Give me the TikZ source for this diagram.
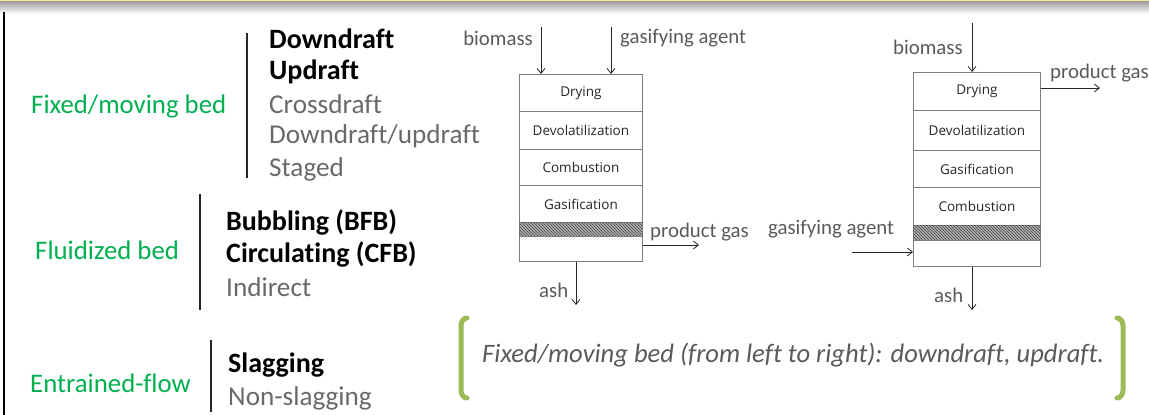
\documentclass[tikz,border=0pt]{standalone}
\usepackage{fontspec}
\setmainfont{Carlito}[Ligatures=CommonOff]
\newfontfamily\labfont{Open Sans}
\usetikzlibrary{arrows.meta,patterns}
\definecolor{grn}{RGB}{0,176,80}
\definecolor{brk}{RGB}{155,187,89}
\definecolor{lgray}{RGB}{105,105,105}
\definecolor{tgray}{RGB}{90,90,90}
\definecolor{boxgray}{RGB}{125,125,125}
\definecolor{topyel}{RGB}{240,232,150}
\tikzset{
  cat/.style={anchor=west,inner sep=0pt,text=grn,font=\fontsize{26.8}{30}\selectfont},
  itb/.style={anchor=west,inner sep=0pt,text=black,font=\fontsize{28}{30}\selectfont\bfseries},
  itg/.style={anchor=west,inner sep=0pt,text=lgray,font=\fontsize{27.2}{30}\selectfont},
  bar/.style={line width=2pt,black!85},
  sect/.style={draw=boxgray,line width=0.9pt,anchor=north west,inner sep=0pt,text=black!85,font=\labfont\fontsize{13.5}{16}\selectfont},
  hatch/.style={draw=boxgray,line width=0.9pt,anchor=north west,inner sep=0pt,fill=gray!65,postaction={pattern=north west lines,pattern color=black!70}},
  flow/.style={anchor=west,inner sep=0pt,text=tgray,font=\fontsize{20.8}{24}\selectfont},
  arr/.style={black!85,line width=0.8pt,-{Straight Barb[length=5pt,width=8pt]}},
  brack/.style={brk,line width=5pt,line cap=round},
}
\begin{document}
\begin{tikzpicture}[x=1pt,y=-1pt]
\useasboundingbox (0,0) rectangle (1149,415);
% top bar
\fill[topyel] (0,0) rectangle (1149,1.5);
\shade[top color=gray!75,bottom color=white] (0,1.5) rectangle (1149,14);
\draw[line width=2pt,black] (4,12) -- (4,415);

% Fixed/moving bed
\node[cat] (fmb) at (31,106) {Fixed/moving bed};
\draw[bar] (247,33) -- (247,178);
\node[itb] (dd) at (269,39) {Downdraft};
\node[itb] (ud) at (269,72) {Updraft};
\node[itg] (cd) at (269,104) {Crossdraft};
\node[itg] (du) at (269,136) {Downdraft/updraft};
\node[itg] (st) at (269,169) {Staged};

% Fluidized bed
\node[cat] (fb) at (35,250) {Fluidized bed};
\draw[bar] (200,194) -- (200,310);
\node[itb] (bfb) at (226,222) {Bubbling (BFB)};
\node[itb] (cfb) at (226,254) {Circulating (CFB)};
\node[itg] (ind) at (226,287) {Indirect};

% Entrained flow
\node[cat] (ef) at (30,383) {Entrained-flow};
\draw[bar] (211,340) -- (211,412);
\node[itb] (sl) at (228,365) {Slagging};
\node[itg] (ns) at (228,398) {Non-slagging};

% Left reactor (downdraft)
\node[sect,minimum width=123pt,minimum height=37pt] (a1) at (519,74) {Drying};
\node[sect,minimum width=123pt,minimum height=38pt] (a2) at (519,111) {Devolatilization};
\node[sect,minimum width=123pt,minimum height=36pt] (a3) at (519,149) {Combustion};
\node[sect,minimum width=123pt,minimum height=37pt] (a4) at (519,185) {Gasification};
\node[hatch,minimum width=123pt,minimum height=14pt] (a5) at (519,222) {};
\node[sect,minimum width=123pt,minimum height=25pt] (a6) at (519,236) {};
\coordinate (abm) at (541,27);
\coordinate (aga) at (611,27);
\coordinate (apg) at (699,245);
\coordinate (aash) at (576,305);
\draw[arr] (abm) -- (abm |- a1.north);
\draw[arr] (aga) -- (aga |- a1.north);
\draw[arr] (a6.east |- apg) -- (apg);
\draw[arr] (aash |- a6.south) -- (aash);
\node[flow,anchor=east] (lbm) at (533,38) {biomass};
\node[flow] (lga) at (620,38) {gasifying agent};
\node[flow] (lpg) at (650,232) {product gas};
\node[flow] (lash) at (539,290) {ash};

% Right reactor (updraft)
\node[sect,minimum width=127pt,minimum height=38pt] (b1) at (913,72) {Drying};
\node[sect,minimum width=127pt,minimum height=40pt] (b2) at (913,110) {Devolatilization};
\node[sect,minimum width=127pt,minimum height=37pt] (b3) at (913,150) {Gasification};
\node[sect,minimum width=127pt,minimum height=38pt] (b4) at (913,187) {Combustion};
\node[hatch,minimum width=127pt,minimum height=15pt] (b5) at (913,225) {};
\node[sect,minimum width=127pt,minimum height=26pt] (b6) at (913,240) {};
\coordinate (bbm) at (972,23);
\coordinate (bpg) at (1100,88);
\coordinate (bga) at (852,252);
\coordinate (bash) at (972,310);
\draw[arr] (bbm) -- (bbm |- b1.north);
\draw[arr] (b1.east |- bpg) -- (bpg);
\draw[arr] (bga) -- (bga -| b6.west);
\draw[arr] (bash |- b6.south) -- (bash);
\node[flow] (rbm) at (893,47) {biomass};
\node[flow] (rpg) at (1050,73) {product gas};
\node[flow] (rga) at (768,229) {gasifying agent};
\node[flow] (rash) at (934,295) {ash};

% caption with brackets
\draw[brack] (467,318) to[out=180,in=90] (461,326) -- (461,390) to[out=-90,in=180] (467,398);
\draw[brack] (1117,318) to[out=0,in=90] (1123,326) -- (1123,390) to[out=-90,in=0] (1117,398);
\node[anchor=west,inner sep=0pt,text=tgray,font=\fontsize{26.6}{30}\selectfont\itshape] (cap) at (482,355) {Fixed/moving bed (from left to right): downdraft, updraft.};
\end{tikzpicture}
\end{document}
